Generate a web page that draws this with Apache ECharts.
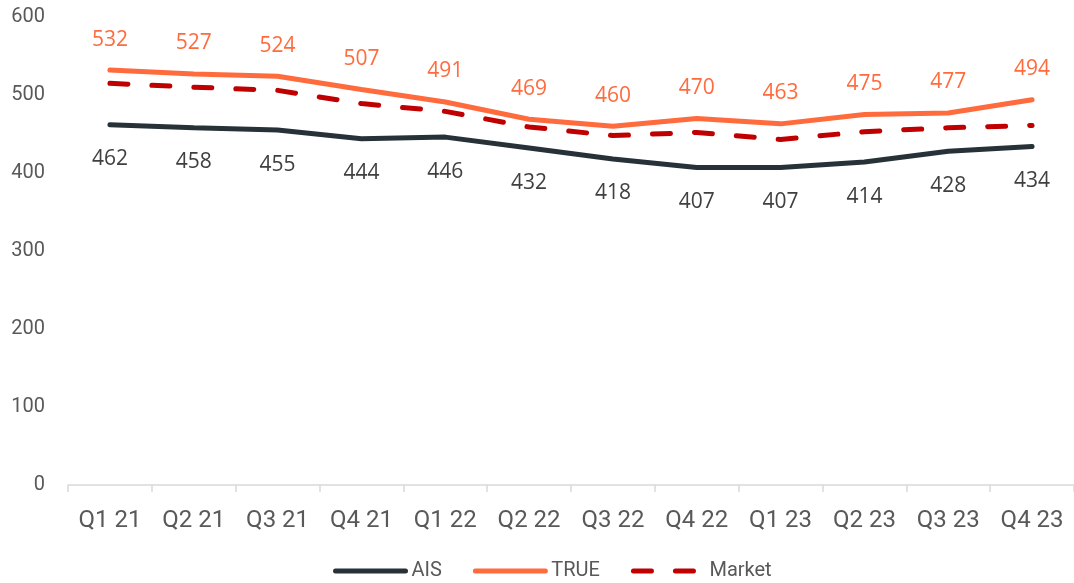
<!DOCTYPE html>
<html>
<head>
<meta charset="utf-8">
<script src="https://cdn.jsdelivr.net/npm/echarts@6/dist/echarts.min.js"></script>
<style>
html,body{margin:0;padding:0;background:#fff;}
#chart{width:1074px;height:583px;}
</style>
</head>
<body>
<div id="chart"></div>
<script>
const categories = ['Q1 21','Q2 21','Q3 21','Q4 21','Q1 22','Q2 22','Q3 22','Q4 22','Q1 23','Q2 23','Q3 23','Q4 23'];
const aisValues = [462,458,455,444,446,432,418,407,407,414,428,434];
const trueValues = [532,527,524,507,491,469,460,470,463,475,477,494];
const marketValues = [515,510,506,489,479,459,448,452,443,453,458,461];

const chart = echarts.init(document.getElementById('chart'));
chart.setOption({
  animation: false,
  grid: {left: 68, right: 0, top: 17, bottom: 98, containLabel: false},
  legend: {
    top: 561,
    left: 333,
    padding: 0,
    itemWidth: 70,
    itemHeight: 14,
    itemGap: 31,
    itemStyle: {opacity: 0},
    lineStyle: {width: 5, cap: 'round'},
    textStyle: {fontFamily: 'Roboto', fontSize: 20, color: '#595959', padding: [0, 0, 0, 1]},
    data: ['AIS','TRUE','Market']
  },
  xAxis: {
    type: 'category',
    data: categories,
    boundaryGap: true,
    axisLine: {lineStyle: {color: '#d9d9d9', width: 1.5}},
    axisTick: {show: true, length: 7, lineStyle: {color: '#d9d9d9', width: 1.5}},
    axisLabel: {fontFamily: 'Roboto', fontSize: 24, color: '#595959', margin: 24}
  },
  yAxis: {
    type: 'value',
    min: 0,
    max: 600,
    interval: 100,
    axisLine: {show: false},
    axisTick: {show: false},
    splitLine: {show: false},
    axisLabel: {fontFamily: 'Roboto', fontSize: 20, color: '#595959', margin: 23}
  },
  series: [
    {
      name: 'AIS', type: 'line', data: aisValues,
      symbol: 'circle', symbolSize: 0.01, showSymbol: true,
      lineStyle: {color: '#263238', width: 5, cap: 'round'},
      itemStyle: {color: '#263238'},
      label: {show: true, position: 'bottom', distance: 24, fontFamily: 'Open Sans', fontSize: 21, color: '#404040'}
    },
    {
      name: 'TRUE', type: 'line', data: trueValues,
      symbol: 'circle', symbolSize: 0.01, showSymbol: true,
      lineStyle: {color: '#FF6B3D', width: 5, cap: 'round'},
      itemStyle: {color: '#FF6B3D'},
      label: {show: true, position: 'top', distance: 20, fontFamily: 'Open Sans', fontSize: 21, color: '#FF6B3D'}
    },
    {
      name: 'Market', type: 'line', data: marketValues,
      symbol: 'none',
      lineStyle: {color: '#C00000', width: 5, type: [18, 24], cap: 'round'},
      itemStyle: {color: '#C00000'},
      label: {show: false}
    }
  ]
});
</script>
</body>
</html>
